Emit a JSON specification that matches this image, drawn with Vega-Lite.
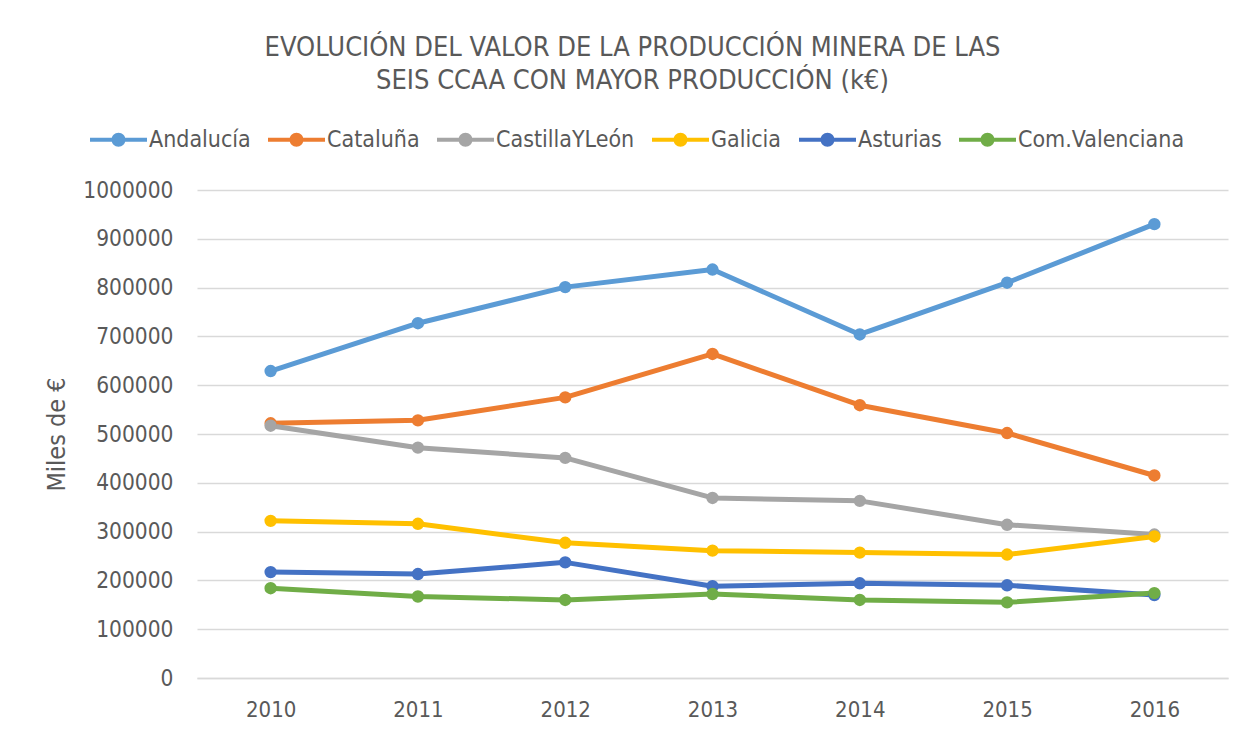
{
  "$schema": "https://vega.github.io/schema/vega-lite/v6.json",
  "width": 1031,
  "height": 488,
  "autosize": {"type": "none"},
  "padding": {"left": 197, "top": 190, "right": 18, "bottom": 55},
  "background": "white",
  "config": {
    "view": {"stroke": null},
    "font": "DejaVu Sans Condensed",
    "text": {"font": "DejaVu Sans Condensed"}
  },
  "title": {
    "text": ["EVOLUCIÓN DEL VALOR DE LA PRODUCCIÓN MINERA DE LAS", "SEIS CCAA CON MAYOR PRODUCCIÓN (k€)"],
    "font": "DejaVu Sans Condensed",
    "fontSize": 27,
    "fontWeight": "normal",
    "color": "#595959",
    "anchor": "middle",
    "frame": "group",
    "dx": -80,
    "offset": 16,
    "lineHeight": 33
  },
  "data": {
    "values": [
      {"ccaa": "Andalucía", "year": "2010", "value": 629000},
      {"ccaa": "Andalucía", "year": "2011", "value": 727000},
      {"ccaa": "Andalucía", "year": "2012", "value": 801000},
      {"ccaa": "Andalucía", "year": "2013", "value": 837000},
      {"ccaa": "Andalucía", "year": "2014", "value": 704000},
      {"ccaa": "Andalucía", "year": "2015", "value": 810000},
      {"ccaa": "Andalucía", "year": "2016", "value": 930000},
      {"ccaa": "Cataluña", "year": "2010", "value": 522000},
      {"ccaa": "Cataluña", "year": "2011", "value": 528000},
      {"ccaa": "Cataluña", "year": "2012", "value": 575000},
      {"ccaa": "Cataluña", "year": "2013", "value": 664000},
      {"ccaa": "Cataluña", "year": "2014", "value": 559000},
      {"ccaa": "Cataluña", "year": "2015", "value": 502000},
      {"ccaa": "Cataluña", "year": "2016", "value": 415000},
      {"ccaa": "CastillaYLeón", "year": "2010", "value": 517000},
      {"ccaa": "CastillaYLeón", "year": "2011", "value": 472000},
      {"ccaa": "CastillaYLeón", "year": "2012", "value": 451000},
      {"ccaa": "CastillaYLeón", "year": "2013", "value": 369000},
      {"ccaa": "CastillaYLeón", "year": "2014", "value": 363000},
      {"ccaa": "CastillaYLeón", "year": "2015", "value": 314000},
      {"ccaa": "CastillaYLeón", "year": "2016", "value": 294000},
      {"ccaa": "Galicia", "year": "2010", "value": 322000},
      {"ccaa": "Galicia", "year": "2011", "value": 316000},
      {"ccaa": "Galicia", "year": "2012", "value": 277000},
      {"ccaa": "Galicia", "year": "2013", "value": 261000},
      {"ccaa": "Galicia", "year": "2014", "value": 257000},
      {"ccaa": "Galicia", "year": "2015", "value": 253000},
      {"ccaa": "Galicia", "year": "2016", "value": 290000},
      {"ccaa": "Asturias", "year": "2010", "value": 217000},
      {"ccaa": "Asturias", "year": "2011", "value": 213000},
      {"ccaa": "Asturias", "year": "2012", "value": 237000},
      {"ccaa": "Asturias", "year": "2013", "value": 188000},
      {"ccaa": "Asturias", "year": "2014", "value": 194000},
      {"ccaa": "Asturias", "year": "2015", "value": 190000},
      {"ccaa": "Asturias", "year": "2016", "value": 170000},
      {"ccaa": "Com.Valenciana", "year": "2010", "value": 184000},
      {"ccaa": "Com.Valenciana", "year": "2011", "value": 167000},
      {"ccaa": "Com.Valenciana", "year": "2012", "value": 160000},
      {"ccaa": "Com.Valenciana", "year": "2013", "value": 172000},
      {"ccaa": "Com.Valenciana", "year": "2014", "value": 160000},
      {"ccaa": "Com.Valenciana", "year": "2015", "value": 155000},
      {"ccaa": "Com.Valenciana", "year": "2016", "value": 174000}
    ]
  },
  "encoding": {
    "x": {
      "field": "year",
      "type": "ordinal",
      "scale": {"type": "point", "padding": 0.5},
      "axis": {
        "title": null,
        "labelAngle": 0,
        "labelFont": "DejaVu Sans Condensed",
        "labelFontSize": 22,
        "labelColor": "#595959",
        "labelPadding": 21,
        "ticks": false,
        "domain": true,
        "domainColor": "#D9D9D9",
        "domainWidth": 1.5,
        "grid": false
      }
    },
    "y": {
      "field": "value",
      "type": "quantitative",
      "scale": {"domain": [0, 1000000], "nice": false, "zero": true},
      "axis": {
        "title": "Miles de €",
        "titleFont": "DejaVu Sans Condensed",
        "titleFontSize": 25,
        "titleFontWeight": "normal",
        "titleColor": "#595959",
        "titlePadding": 13,
        "values": [0, 100000, 200000, 300000, 400000, 500000, 600000, 700000, 800000, 900000, 1000000],
        "format": "d",
        "labelFont": "DejaVu Sans Condensed",
        "labelFontSize": 22.5,
        "labelColor": "#595959",
        "labelPadding": 24,
        "ticks": false,
        "domain": false,
        "grid": true,
        "gridColor": "#D9D9D9",
        "gridWidth": 1.5
      }
    },
    "color": {
      "field": "ccaa",
      "type": "nominal",
      "sort": ["Andalucía", "Cataluña", "CastillaYLeón", "Galicia", "Asturias", "Com.Valenciana"],
      "scale": {
        "domain": ["Andalucía", "Cataluña", "CastillaYLeón", "Galicia", "Asturias", "Com.Valenciana"],
        "range": ["#5B9BD5", "#ED7D31", "#A5A5A5", "#FFC000", "#4472C4", "#70AD47"]
      },
      "legend": {
        "title": null,
        "orient": "none",
        "direction": "horizontal",
        "columns": 6,
        "legendX": -107,
        "legendY": -79,
        "labelFont": "DejaVu Sans Condensed",
        "labelFontSize": 23,
        "labelColor": "#595959",
        "labelOffset": 2,
        "labelLimit": 400,
        "columnPadding": 17,
        "symbolType": "M-1,-0.07L1,-0.07L1,0.07L-1,0.07Z M-0.245,0A0.245,0.245 0 1 1 0.245,0A0.245,0.245 0 1 1 -0.245,0Z",
        "symbolSize": 3249,
        "symbolStrokeWidth": 0,
        "encode": {
          "symbols": {
            "update": {
              "fill": {"scale": "color", "field": "value"},
              "fillOpacity": {"value": 1},
              "strokeWidth": {"value": 0},
              "size": {"value": 3249}
            }
          }
        }
      }
    }
  },
  "layer": [
    {"mark": {"type": "line", "strokeWidth": 5, "strokeCap": "round", "strokeJoin": "round"}},
    {"mark": {"type": "point", "filled": true, "opacity": 1, "size": 154, "shape": "circle"}}
  ]
}
